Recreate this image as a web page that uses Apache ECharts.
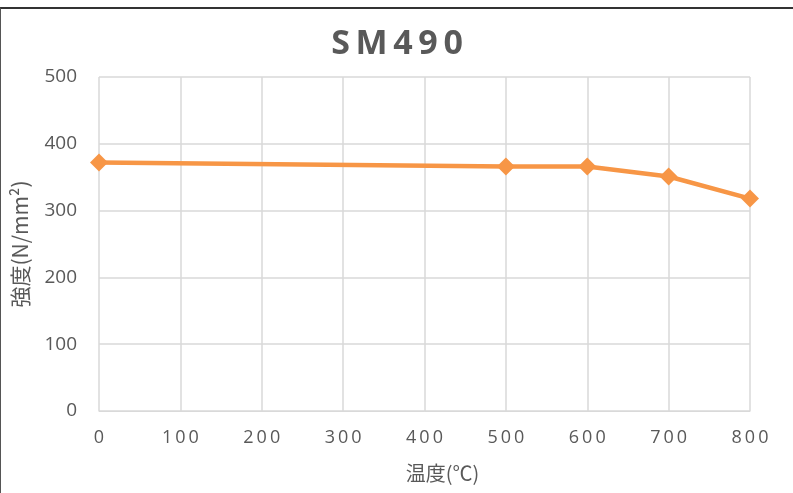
<!DOCTYPE html>
<html>
<head>
<meta charset="utf-8">
<script src="https://cdn.jsdelivr.net/npm/echarts@6/dist/echarts.min.js"></script>
<style>
  html, body { margin: 0; padding: 0; background: #fff; }
  #chart { width: 793px; box-sizing: border-box; border-top: 2px solid #333; border-left: 1px solid #555; margin-top: 7px; height: 486px; }
</style>
</head>
<body>
<div id="chart"></div>
<script>
const temps = [0, 500, 600, 700, 800];
const strength = [372, 366, 366, 351, 318];
const xTicks = [0, 100, 200, 300, 400, 500, 600, 700, 800];

const chart = echarts.init(document.getElementById("chart"));
const font = "'Noto Sans CJK JP', 'Open Sans', sans-serif";

chart.setOption({
  animation: false,
  title: {
    text: "S\u2009M\u20094\u20099\u20090",
    left: "center",
    top: 13,
    textStyle: { fontFamily: "'Open Sans', sans-serif", fontSize: 34, fontWeight: "bold", color: "#595959" }
  },
  grid: { left: 98, right: 43, top: 68, bottom: 82 },
  xAxis: {
    type: "value",
    min: 0,
    max: 800,
    interval: 100,
    name: "温度(℃)",
    nameLocation: "middle",
    nameGap: 52,
    nameTextStyle: { fontFamily: font, fontSize: 20, color: "#595959", padding: [0, 0, 0, 36] },
    axisLine: { show: true, lineStyle: { color: "#d9d9d9" } },
    axisTick: { show: false },
    axisLabel: {
      color: "#595959", fontSize: 18, fontFamily: "'Open Sans', sans-serif", margin: 18,
      formatter: v => xTicks.includes(v) ? String(v).split("").join("\u2009") : ""
    },
    splitLine: { show: true, lineStyle: { color: "#d9d9d9", width: 1.5 } }
  },
  yAxis: {
    type: "value",
    min: 0,
    max: 500,
    interval: 100,
    name: "強度(N/mm²)",
    nameLocation: "middle",
    nameGap: 68,
    nameTextStyle: { fontFamily: font, fontSize: 21, color: "#595959" },
    axisLine: { show: false },
    axisTick: { show: false },
    axisLabel: { color: "#595959", fontSize: 19, fontFamily: "'Open Sans', sans-serif", margin: 22 },
    splitLine: { lineStyle: { color: "#d9d9d9", width: 1.5 } }
  },
  series: [{
    type: "line",
    data: temps.map((t, i) => [t, strength[i]]),
    symbol: "diamond",
    symbolSize: 18,
    lineStyle: { color: "#F79646", width: 4.5 },
    itemStyle: { color: "#F79646" }
  }]
});
</script>
</body>
</html>
